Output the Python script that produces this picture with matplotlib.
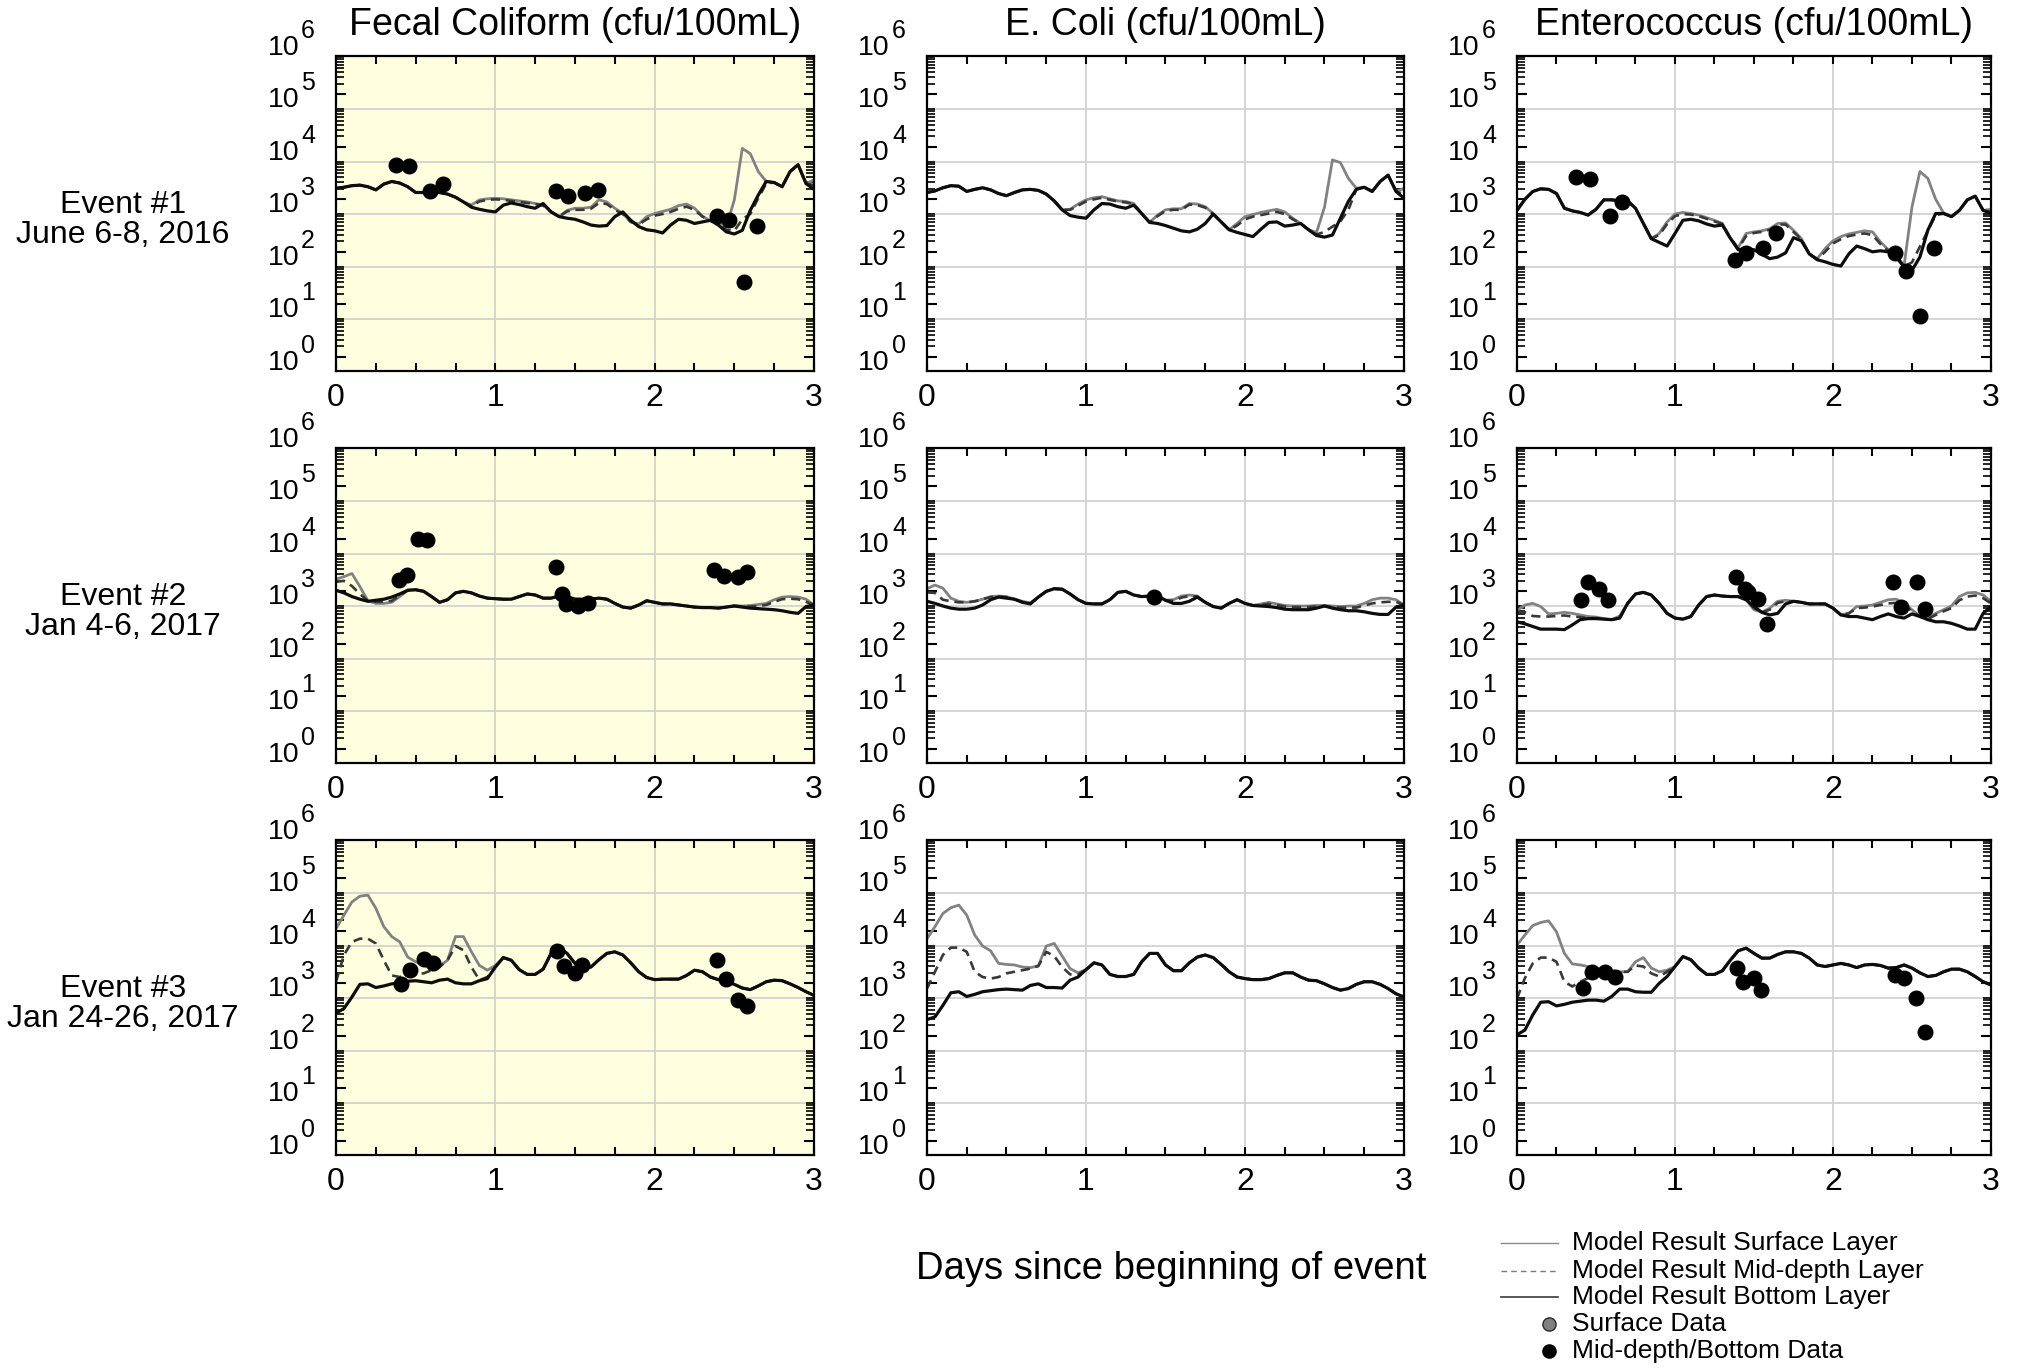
import numpy as np
import matplotlib
matplotlib.use("Agg")
import matplotlib.pyplot as plt
import matplotlib.transforms as mtransforms
from matplotlib.lines import Line2D
from matplotlib.ticker import FixedLocator, NullFormatter

plt.rcParams['font.family'] = ['Liberation Sans', 'DejaVu Sans']

# ---------------- data (log10 of cfu/100mL) ----------------
model_days = np.round(np.arange(61) * 0.05, 2)

# Event 1 - Fecal coliform
fc1_surface = [3.21,3.23,3.26,3.27,3.24,3.18,3.29,3.34,3.31,3.24,
 3.13,3.13,3.13,3.13,3.10,3.04,2.95,2.89,2.99,3.01,
 3.02,3.01,2.99,2.97,2.95,2.92,2.89,2.76,2.67,2.79,
 2.83,2.83,2.85,2.99,2.95,2.83,2.73,2.57,2.53,2.67,
 2.73,2.77,2.81,2.88,2.91,2.83,2.68,2.59,2.57,2.48,
 2.99,3.97,3.87,3.53,3.34,3.32,3.24,3.53,3.66,3.30,
 3.37]
fc1_middepth = [3.21,3.23,3.26,3.27,3.24,3.18,3.29,3.34,3.31,3.24,
 3.13,3.13,3.13,3.13,3.10,3.04,2.95,2.87,2.96,2.99,
 3.00,2.99,2.97,2.95,2.93,2.91,2.88,2.76,2.67,2.77,
 2.80,2.80,2.82,2.93,2.91,2.80,2.72,2.57,2.52,2.62,
 2.69,2.72,2.76,2.82,2.86,2.80,2.67,2.59,2.56,2.42,
 2.40,2.62,2.72,3.02,3.30,3.32,3.24,3.53,3.66,3.30,
 3.27]
fc1_bottom = [3.21,3.23,3.26,3.27,3.24,3.18,3.29,3.34,3.31,3.24,
 3.13,3.13,3.13,3.13,3.10,3.04,2.95,2.85,2.81,2.78,
 2.76,2.89,2.93,2.90,2.86,2.83,2.92,2.76,2.67,2.64,
 2.62,2.57,2.51,2.49,2.50,2.67,2.76,2.60,2.48,2.42,
 2.40,2.36,2.51,2.62,2.60,2.54,2.57,2.60,2.51,2.38,
 2.34,2.41,2.79,3.08,3.34,3.32,3.24,3.53,3.66,3.30,
 3.19]
fc1_obs_days = [0.374,0.459,0.587,0.669,1.381,1.455,1.562,1.644,2.394,2.469,2.559,2.643]
fc1_obs = [3.66,3.64,3.16,3.30,3.15,3.06,3.13,3.18,2.68,2.60,1.42,2.50]

# Event 1 - E. coli
ec1_surface = [3.13,3.16,3.22,3.26,3.25,3.15,3.19,3.22,3.18,3.11,
 3.07,3.13,3.18,3.19,3.17,3.10,2.97,2.80,2.81,2.91,
 2.99,3.03,3.05,3.01,2.97,2.96,2.92,2.73,2.56,2.70,
 2.80,2.82,2.82,2.92,2.91,2.86,2.73,2.57,2.42,2.54,
 2.67,2.71,2.75,2.78,2.81,2.76,2.64,2.54,2.42,2.37,
 2.85,3.75,3.70,3.40,3.21,3.23,3.15,3.34,3.46,3.15,
 3.21]
ec1_middepth = [3.13,3.16,3.22,3.26,3.25,3.15,3.19,3.22,3.18,3.11,
 3.07,3.13,3.18,3.19,3.17,3.10,2.97,2.80,2.80,2.88,
 2.96,3.00,3.03,2.99,2.96,2.94,2.91,2.73,2.56,2.68,
 2.78,2.80,2.80,2.90,2.89,2.84,2.72,2.57,2.42,2.50,
 2.62,2.67,2.70,2.73,2.76,2.72,2.62,2.54,2.42,2.33,
 2.38,2.48,2.58,2.80,3.19,3.23,3.15,3.34,3.46,3.15,
 3.10]
ec1_bottom = [3.13,3.16,3.22,3.26,3.25,3.15,3.19,3.22,3.18,3.11,
 3.07,3.13,3.18,3.19,3.17,3.10,2.97,2.80,2.69,2.66,
 2.64,2.80,2.92,2.91,2.86,2.83,2.89,2.73,2.56,2.54,
 2.50,2.45,2.40,2.38,2.43,2.54,2.72,2.57,2.42,2.37,
 2.33,2.29,2.43,2.56,2.57,2.49,2.51,2.54,2.42,2.31,
 2.28,2.32,2.64,2.96,3.19,3.23,3.15,3.34,3.46,3.15,
 3.02]
ec1_obs_days = []
ec1_obs = []

# Event 1 - Enterococcus
en1_surface = [2.79,3.00,3.15,3.20,3.19,3.11,2.83,2.78,2.75,2.70,
 2.81,2.99,2.99,2.97,2.97,2.83,2.54,2.25,2.35,2.57,
 2.72,2.75,2.73,2.70,2.65,2.60,2.54,2.26,2.08,2.35,
 2.38,2.40,2.44,2.54,2.55,2.41,2.25,1.96,1.87,2.06,
 2.21,2.29,2.34,2.37,2.40,2.38,2.19,2.04,1.93,1.74,
 2.86,3.53,3.40,3.00,2.74,2.67,2.79,2.99,3.06,2.79,
 2.81]
en1_middepth = [2.79,3.00,3.15,3.20,3.19,3.11,2.83,2.78,2.75,2.70,
 2.81,2.99,2.99,2.97,2.97,2.83,2.54,2.25,2.32,2.53,
 2.68,2.72,2.71,2.68,2.63,2.58,2.53,2.26,2.06,2.30,
 2.36,2.38,2.42,2.52,2.52,2.38,2.24,1.96,1.86,2.00,
 2.16,2.24,2.30,2.33,2.35,2.32,2.15,2.02,1.92,1.72,
 1.80,2.10,2.40,2.70,2.73,2.67,2.79,2.99,3.06,2.79,
 2.76]
en1_bottom = [2.79,3.00,3.15,3.20,3.19,3.11,2.83,2.78,2.75,2.70,
 2.81,2.99,2.99,2.97,2.97,2.83,2.54,2.25,2.18,2.11,
 2.35,2.60,2.62,2.59,2.53,2.49,2.51,2.26,2.04,2.06,
 2.04,1.95,1.87,1.90,1.98,2.27,2.21,1.96,1.85,1.81,
 1.76,1.73,1.96,2.11,2.06,2.00,2.02,2.00,1.90,1.71,
 1.65,1.90,2.41,2.73,2.73,2.67,2.79,2.99,3.06,2.79,
 2.73]
en1_obs_days = [0.376,0.461,0.587,0.667,1.380,1.450,1.557,1.642,2.394,2.462,2.552,2.641]
en1_obs = [3.43,3.38,2.68,2.94,1.84,1.98,2.08,2.35,1.98,1.63,0.77,2.07]

# Event 2 - Fecal coliform
fc2_surface = [3.23,3.28,3.34,3.09,2.82,2.77,2.77,2.79,2.90,3.02,
 3.03,3.00,2.90,2.79,2.84,2.97,3.00,2.97,2.91,2.87,
 2.86,2.85,2.85,2.90,2.95,2.93,2.87,2.87,2.91,2.90,
 2.85,2.85,2.85,2.87,2.85,2.77,2.70,2.68,2.74,2.82,
 2.79,2.76,2.76,2.74,2.72,2.70,2.69,2.69,2.68,2.70,
 2.73,2.72,2.73,2.75,2.77,2.84,2.89,2.90,2.89,2.85,
 2.74]
fc2_middepth = [3.18,3.20,3.10,2.95,2.82,2.80,2.80,2.82,2.92,3.02,
 3.03,3.00,2.90,2.79,2.84,2.97,3.00,2.97,2.91,2.87,
 2.86,2.85,2.85,2.90,2.95,2.93,2.87,2.87,2.91,2.90,
 2.85,2.85,2.85,2.87,2.85,2.77,2.70,2.68,2.74,2.82,
 2.79,2.76,2.76,2.74,2.72,2.70,2.69,2.69,2.68,2.70,
 2.72,2.71,2.71,2.72,2.74,2.80,2.85,2.86,2.85,2.80,
 2.74]
fc2_bottom = [3.02,2.97,2.90,2.85,2.81,2.83,2.85,2.89,2.95,3.02,
 3.03,3.00,2.90,2.79,2.84,2.97,3.00,2.97,2.91,2.87,
 2.86,2.85,2.85,2.90,2.95,2.93,2.87,2.87,2.91,2.90,
 2.85,2.85,2.85,2.87,2.85,2.77,2.70,2.68,2.74,2.82,
 2.79,2.76,2.76,2.74,2.72,2.70,2.69,2.69,2.68,2.70,
 2.72,2.70,2.68,2.67,2.66,2.65,2.63,2.60,2.58,2.71,
 2.74]
fc2_obs_days = [0.393,0.445,0.512,0.571,1.381,1.421,1.442,1.516,1.579,2.372,2.433,2.524,2.582]
fc2_obs = [3.22,3.32,4.00,3.97,3.46,2.95,2.76,2.73,2.77,3.40,3.30,3.27,3.37]

# Event 2 - E. coli
ec2_surface = [3.05,3.12,3.06,2.87,2.81,2.79,2.81,2.85,2.90,2.91,
 2.90,2.85,2.81,2.78,2.89,3.00,3.05,3.04,2.95,2.84,
 2.77,2.76,2.76,2.84,2.98,3.00,2.93,2.90,2.91,2.91,
 2.83,2.84,2.91,2.93,2.91,2.79,2.71,2.68,2.77,2.84,
 2.77,2.73,2.76,2.79,2.76,2.73,2.72,2.72,2.72,2.73,
 2.73,2.72,2.71,2.72,2.72,2.77,2.84,2.87,2.87,2.84,
 2.74]
ec2_middepth = [2.98,2.97,2.84,2.81,2.79,2.79,2.81,2.85,2.89,2.90,
 2.89,2.85,2.80,2.77,2.89,3.00,3.05,3.04,2.95,2.84,
 2.77,2.76,2.76,2.84,2.98,3.00,2.93,2.90,2.91,2.91,
 2.83,2.82,2.88,2.91,2.90,2.79,2.71,2.68,2.77,2.84,
 2.77,2.73,2.74,2.76,2.74,2.71,2.70,2.70,2.70,2.71,
 2.72,2.70,2.69,2.69,2.69,2.73,2.77,2.79,2.80,2.80,
 2.74]
ec2_bottom = [2.81,2.77,2.72,2.68,2.66,2.66,2.68,2.74,2.84,2.89,
 2.87,2.85,2.79,2.76,2.89,3.00,3.05,3.04,2.95,2.84,
 2.77,2.76,2.76,2.84,2.98,3.00,2.93,2.90,2.91,2.91,
 2.83,2.77,2.77,2.81,2.89,2.79,2.71,2.68,2.77,2.84,
 2.77,2.73,2.72,2.71,2.69,2.66,2.65,2.65,2.65,2.68,
 2.72,2.68,2.65,2.63,2.63,2.61,2.58,2.56,2.56,2.70,
 2.74]
ec2_obs_days = [1.425]
ec2_obs = [2.89]

# Event 2 - Enterococcus
en2_surface = [2.63,2.74,2.77,2.71,2.57,2.58,2.60,2.58,2.55,2.52,
 2.51,2.48,2.46,2.53,2.77,2.95,2.98,2.93,2.77,2.58,
 2.49,2.47,2.52,2.74,2.90,2.93,2.91,2.90,2.90,2.84,
 2.65,2.60,2.68,2.81,2.83,2.81,2.79,2.76,2.76,2.76,
 2.68,2.55,2.58,2.71,2.72,2.74,2.79,2.84,2.85,2.77,
 2.65,2.52,2.49,2.58,2.65,2.72,2.90,2.97,2.98,2.93,
 2.81]
en2_middepth = [2.61,2.60,2.53,2.52,2.52,2.53,2.54,2.52,2.51,2.49,
 2.49,2.47,2.46,2.49,2.77,2.95,2.98,2.93,2.77,2.58,
 2.49,2.47,2.52,2.74,2.90,2.93,2.91,2.90,2.90,2.84,
 2.68,2.60,2.65,2.78,2.81,2.81,2.79,2.76,2.76,2.76,
 2.68,2.55,2.58,2.68,2.69,2.71,2.74,2.77,2.78,2.74,
 2.62,2.52,2.47,2.55,2.62,2.68,2.83,2.90,2.92,2.87,
 2.77]
en2_bottom = [2.42,2.38,2.33,2.28,2.28,2.28,2.27,2.36,2.46,2.48,
 2.48,2.47,2.46,2.49,2.77,2.95,2.98,2.93,2.77,2.58,
 2.49,2.47,2.52,2.74,2.90,2.93,2.91,2.90,2.90,2.84,
 2.71,2.60,2.55,2.58,2.76,2.81,2.79,2.76,2.76,2.76,
 2.68,2.55,2.52,2.52,2.49,2.46,2.52,2.57,2.52,2.49,
 2.57,2.52,2.46,2.42,2.42,2.39,2.34,2.28,2.28,2.58,
 2.71]
en2_obs_days = [0.403,0.451,0.520,0.577,1.389,1.443,1.460,1.523,1.584,2.381,2.433,2.534,2.584]
en2_obs = [2.84,3.17,3.05,2.84,3.28,3.05,2.98,2.86,2.38,3.18,2.71,3.18,2.66]

# Event 3 - Fecal coliform
fc3_surface = [4.04,4.30,4.55,4.66,4.68,4.43,4.08,3.89,3.79,3.50,
 3.41,3.34,3.30,3.33,3.44,3.89,3.89,3.60,3.34,3.25,
 3.34,3.49,3.44,3.26,3.17,3.17,3.27,3.57,3.68,3.57,
 3.38,3.28,3.31,3.45,3.57,3.60,3.54,3.39,3.22,3.11,
 3.07,3.08,3.08,3.08,3.15,3.25,3.22,3.12,3.07,3.03,
 2.98,2.91,2.88,2.95,3.03,3.06,3.05,2.99,2.92,2.84,
 2.77]
fc3_middepth = [3.03,3.54,3.79,3.85,3.85,3.76,3.44,3.15,3.12,3.17,
 3.17,3.19,3.25,3.31,3.44,3.71,3.63,3.31,3.06,3.12,
 3.31,3.49,3.44,3.26,3.17,3.17,3.27,3.57,3.68,3.57,
 3.38,3.28,3.31,3.45,3.57,3.60,3.54,3.39,3.22,3.11,
 3.07,3.08,3.08,3.08,3.15,3.25,3.22,3.12,3.07,3.03,
 2.98,2.91,2.88,2.95,3.03,3.06,3.05,2.99,2.92,2.84,
 2.77]
fc3_bottom = [2.43,2.52,2.74,2.98,2.99,2.92,2.95,2.99,3.01,3.04,
 3.05,3.03,3.01,3.06,3.08,3.01,2.99,2.99,3.05,3.09,
 3.31,3.49,3.44,3.26,3.17,3.17,3.27,3.57,3.68,3.57,
 3.38,3.28,3.31,3.45,3.57,3.60,3.54,3.39,3.22,3.11,
 3.07,3.08,3.08,3.08,3.15,3.25,3.22,3.12,3.07,3.03,
 2.98,2.91,2.88,2.95,3.03,3.06,3.05,2.99,2.92,2.84,
 2.77]
fc3_obs_days = [0.410,0.466,0.555,0.611,1.388,1.431,1.497,1.545,2.390,2.445,2.522,2.578]
fc3_obs = [2.99,3.25,3.47,3.38,3.62,3.33,3.19,3.35,3.44,3.08,2.69,2.56]

# Event 3 - E. coli
ec3_surface = [3.85,4.08,4.33,4.44,4.49,4.30,3.92,3.71,3.62,3.38,
 3.36,3.35,3.31,3.30,3.33,3.71,3.76,3.52,3.28,3.20,
 3.26,3.39,3.35,3.17,3.13,3.13,3.17,3.41,3.57,3.57,
 3.35,3.24,3.24,3.39,3.50,3.54,3.49,3.36,3.22,3.12,
 3.09,3.07,3.07,3.09,3.15,3.20,3.20,3.12,3.06,3.05,
 2.99,2.92,2.87,2.90,2.98,3.03,3.03,2.98,2.90,2.80,
 2.74]
ec3_middepth = [2.90,3.22,3.54,3.68,3.68,3.60,3.22,3.12,3.09,3.12,
 3.19,3.22,3.25,3.28,3.33,3.60,3.52,3.31,3.17,3.17,
 3.26,3.39,3.35,3.17,3.13,3.13,3.17,3.41,3.57,3.57,
 3.35,3.24,3.24,3.39,3.50,3.54,3.49,3.36,3.22,3.12,
 3.09,3.07,3.07,3.09,3.15,3.20,3.20,3.12,3.06,3.05,
 2.99,2.92,2.87,2.90,2.98,3.03,3.03,2.98,2.90,2.80,
 2.74]
ec3_bottom = [2.31,2.36,2.58,2.82,2.84,2.75,2.79,2.84,2.86,2.88,
 2.89,2.88,2.87,2.96,2.99,2.92,2.92,2.91,3.06,3.12,
 3.26,3.39,3.35,3.17,3.13,3.13,3.17,3.41,3.57,3.57,
 3.35,3.24,3.24,3.39,3.50,3.54,3.49,3.36,3.22,3.12,
 3.09,3.07,3.07,3.09,3.15,3.20,3.20,3.12,3.06,3.05,
 2.99,2.92,2.87,2.90,2.98,3.03,3.03,2.98,2.90,2.80,
 2.74]
ec3_obs_days = []
ec3_obs = []

# Event 3 - Enterococcus
en3_surface = [3.73,3.92,4.10,4.16,4.19,3.98,3.57,3.37,3.35,3.32,
 3.29,3.25,3.24,3.22,3.22,3.41,3.49,3.29,3.22,3.25,
 3.32,3.51,3.45,3.29,3.17,3.17,3.24,3.44,3.62,3.67,
 3.57,3.48,3.48,3.55,3.60,3.60,3.57,3.48,3.35,3.32,
 3.35,3.38,3.35,3.30,3.35,3.36,3.34,3.29,3.30,3.35,
 3.29,3.20,3.13,3.15,3.22,3.27,3.27,3.22,3.13,3.03,
 2.97]
en3_middepth = [2.71,3.10,3.38,3.49,3.49,3.41,3.03,2.94,3.03,3.10,
 3.16,3.19,3.21,3.22,3.22,3.34,3.32,3.19,3.13,3.22,
 3.32,3.51,3.45,3.29,3.17,3.17,3.24,3.44,3.62,3.67,
 3.57,3.48,3.48,3.55,3.60,3.60,3.57,3.48,3.35,3.32,
 3.35,3.38,3.35,3.30,3.35,3.36,3.34,3.29,3.30,3.35,
 3.29,3.20,3.13,3.15,3.22,3.27,3.27,3.22,3.13,3.03,
 2.97]
en3_bottom = [2.02,2.11,2.40,2.64,2.65,2.57,2.60,2.64,2.66,2.68,
 2.68,2.66,2.75,2.89,2.89,2.84,2.83,2.83,3.00,3.13,
 3.32,3.51,3.45,3.29,3.17,3.17,3.24,3.44,3.62,3.67,
 3.57,3.48,3.48,3.55,3.60,3.60,3.57,3.48,3.35,3.32,
 3.35,3.38,3.35,3.30,3.35,3.36,3.34,3.29,3.30,3.35,
 3.29,3.20,3.13,3.15,3.22,3.27,3.27,3.22,3.13,3.03,
 2.97]
en3_obs_days = [0.415,0.472,0.560,0.619,1.391,1.433,1.500,1.546,2.391,2.450,2.528,2.580]
en3_obs = [2.92,3.21,3.21,3.13,3.30,3.03,3.11,2.87,3.16,3.11,2.73,2.07]

column_titles = ["Fecal Coliform (cfu/100mL)", "E. Coli (cfu/100mL)", "Enterococcus (cfu/100mL)"]
row_titles = [("Event #1", "June 6-8, 2016"), ("Event #2", "Jan 4-6, 2017"), ("Event #3", "Jan 24-26, 2017")]
x_label = "Days since beginning of event"
legend_labels = ["Model Result Surface Layer", "Model Result Mid-depth Layer",
                 "Model Result Bottom Layer", "Surface Data", "Mid-depth/Bottom Data"]

panels = [
    [(fc1_surface, fc1_middepth, fc1_bottom, fc1_obs_days, fc1_obs),
     (ec1_surface, ec1_middepth, ec1_bottom, ec1_obs_days, ec1_obs),
     (en1_surface, en1_middepth, en1_bottom, en1_obs_days, en1_obs)],
    [(fc2_surface, fc2_middepth, fc2_bottom, fc2_obs_days, fc2_obs),
     (ec2_surface, ec2_middepth, ec2_bottom, ec2_obs_days, ec2_obs),
     (en2_surface, en2_middepth, en2_bottom, en2_obs_days, en2_obs)],
    [(fc3_surface, fc3_middepth, fc3_bottom, fc3_obs_days, fc3_obs),
     (ec3_surface, ec3_middepth, ec3_bottom, ec3_obs_days, ec3_obs),
     (en3_surface, en3_middepth, en3_bottom, en3_obs_days, en3_obs)],
]

# ---------------- layout ----------------
W, H = 2024, 1368
fig = plt.figure(figsize=(W / 100, H / 100), dpi=100)
fig.patch.set_facecolor('white')

col_left = [336, 927, 1517]
col_width = [478, 477, 474]
row_top = [56, 448, 840]
ax_h = 315

LOG_LO, LOG_HI = -0.27, 5.73
grid_levels = [-0.28, 0.72, 1.72, 2.72, 3.72, 4.72, 5.72]
minor_pos = []
for g in grid_levels:
    minor_pos.append(10 ** g)
    for m in range(3, 10):
        minor_pos.append(10 ** (g - 1 + np.log10(m)))
minor_pos = [v for v in minor_pos if 10 ** LOG_LO < v < 10 ** LOG_HI]

def px_rect(l, t, w, h):
    return [l / W, 1 - (t + h) / H, w / W, h / H]

for r in range(3):
    for c in range(3):
        surf, mid, bot, od, ov = panels[r][c]
        ax = fig.add_axes(px_rect(col_left[c], row_top[r], col_width[c], ax_h))
        ax.set_facecolor('#FFFFE0' if c == 0 else 'white')
        ax.set_yscale('log')
        ax.set_xlim(0, 3)
        ax.set_ylim(10 ** LOG_LO, 10 ** LOG_HI)

        for g in grid_levels:
            if LOG_LO < g < LOG_HI - 0.05:
                ax.axhline(10 ** g, color='#d2d2d2', lw=1.3, zorder=0.5)
        for xv in (1, 2):
            ax.axvline(xv, color='#d2d2d2', lw=1.3, zorder=0.5)

        ax.plot(model_days, 10 ** np.array(surf), color='#828282', lw=2.0, zorder=3)
        ax.plot(model_days, 10 ** np.array(mid), color='#383838', lw=1.9,
                ls=(0, (3.5, 2.2)), zorder=4)
        ax.plot(model_days, 10 ** np.array(bot), color='#0d0d0d', lw=2.3, zorder=5)
        if len(od):
            ax.plot(od, 10 ** np.array(ov), 'o', color='black', ms=10.5, zorder=6)

        ax.set_yticks([10.0 ** k for k in range(6)])
        ax.yaxis.set_major_formatter(NullFormatter())
        ax.yaxis.set_minor_locator(FixedLocator(minor_pos))
        ax.yaxis.set_minor_formatter(NullFormatter())
        ax.tick_params(axis='y', which='both', direction='in', left=True, right=True,
                       labelleft=False)
        ax.tick_params(axis='y', which='major', length=7, width=1.5)
        ax.tick_params(axis='y', which='minor', length=6, width=1.2)

        xt = np.arange(0, 3.01, 0.25)
        ax.set_xticks(xt)
        ax.set_xticklabels([str(int(v)) if abs(v - round(v)) < 1e-9 else '' for v in xt])
        ax.tick_params(axis='x', which='both', direction='in', top=True, bottom=True,
                       length=6, width=1.5, labelsize=23, pad=9)
        for sp in ax.spines.values():
            sp.set_linewidth(1.6)
            sp.set_color('black')
            sp.set_zorder(7)

        base = mtransforms.blended_transform_factory(ax.transAxes, ax.transData)
        for k in range(7):
            t1 = mtransforms.offset_copy(base, fig=fig, x=-37, y=-6, units='dots')
            ax.text(0, 10.0 ** k, '10', transform=t1, ha='right', va='center',
                    fontsize=20.5, clip_on=False)
            t2 = mtransforms.offset_copy(base, fig=fig, x=-35, y=11, units='dots')
            ax.text(0, 10.0 ** k, str(k), transform=t2, ha='left', va='center',
                    fontsize=18, clip_on=False)

        if r == 0:
            cx = col_left[c] + col_width[c] / 2
            fig.text(cx / W, 1 - 35 / H, column_titles[c], ha='center', va='baseline',
                     fontsize=27)
    l1, l2 = row_titles[r]
    fig.text(123 / W, 1 - (row_top[r] + 157) / H, l1, ha='center', va='baseline', fontsize=23)
    fig.text(123 / W, 1 - (row_top[r] + 187) / H, l2, ha='center', va='baseline', fontsize=23)

fig.text(1171 / W, 1 - 1269 / H, x_label, ha='center', va='center', fontsize=27.5)

# ---------------- legend ----------------
leg_y = [1243, 1271, 1297, 1324, 1351]
line_styles = [dict(color='#8a8a8a', lw=1.0, ls='-'),
               dict(color='#7a7a7a', lw=1.0, ls=(0, (4, 3))),
               dict(color='#4a4a4a', lw=1.3, ls='-')]
for i in range(3):
    y = 1 - leg_y[i] / H
    fig.add_artist(Line2D([1501 / W, 1558 / W], [y, y], **line_styles[i]))
marker_styles = [dict(mfc='#808080', mec='#2a2a2a'), dict(mfc='black', mec='black')]
for i in range(2):
    y = 1 - leg_y[3 + i] / H
    fig.add_artist(Line2D([1549 / W], [y], marker='o', ls='none', markersize=9.5,
                          mew=1.0, **marker_styles[i]))
for i, lab in enumerate(legend_labels):
    fig.text(1572 / W, 1 - leg_y[i] / H, lab, ha='left', va='center', fontsize=19)

fig.savefig('out.png', dpi=100, facecolor='white')
